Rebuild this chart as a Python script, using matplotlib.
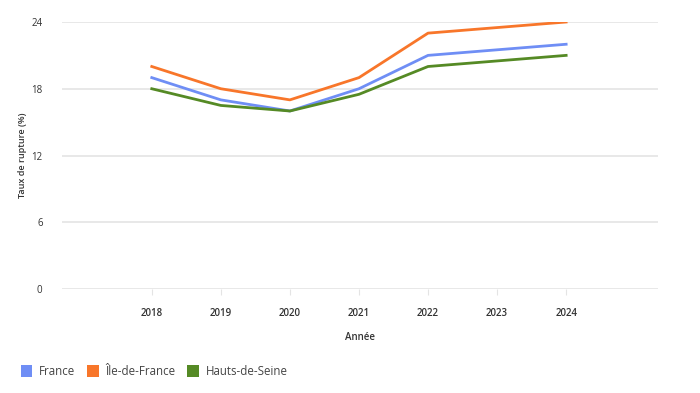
import matplotlib
matplotlib.use("Agg")
import matplotlib.pyplot as plt
from matplotlib.patches import Patch

years = [2018, 2019, 2020, 2021, 2022, 2023, 2024]
france = [19.0, 17.0, 16.0, 18.0, 21.0, 21.5, 22.0]
idf = [20.0, 18.0, 17.0, 19.0, 23.0, 23.5, 24.0]
hds = [18.0, 16.5, 16.0, 17.5, 20.0, 20.5, 21.0]
series_names = ["France", "Île-de-France", "Hauts-de-Seine"]
colors = ["#6f8ef5", "#f8762a", "#558a25"]
yticks = [0, 6, 12, 18, 24]

plt.rcParams['font.family'] = ['Open Sans', 'DejaVu Sans']

fig = plt.figure(figsize=(7, 3.93), dpi=100)
ax = fig.add_axes([62/700, 104/393, 596/700, 267/393])

for vals, c, n in zip([france, idf, hds], colors, series_names):
    ax.plot(years, vals, color=c, lw=2, label=n, solid_joinstyle='round')

ax.set_xlim(2016.7, 2025.33)
ax.set_ylim(0, 24)
ax.set_yticks(yticks)
ax.set_xticks(years)
ax.set_xticklabels([str(y) for y in years], fontsize=7, color="#333333", fontweight='semibold')
ax.set_yticklabels([str(v) for v in yticks], fontsize=7, color="#333333")
ax.grid(axis='y', color='#e4e4e4', lw=1.2)
ax.set_axisbelow(True)
for s in ax.spines.values():
    s.set_visible(False)
ax.tick_params(axis='y', length=0, pad=14)
ax.tick_params(axis='x', length=4, color='#e4e4e4', pad=10)
ax.set_xlabel("Année", fontsize=7, color="#333333", fontweight='semibold', labelpad=9)
ax.set_ylabel("Taux de rupture (%)", fontsize=6.5, color="#333333", fontweight='semibold', labelpad=3)

handles = [Patch(facecolor=c, edgecolor='none') for c in colors]
fig.legend(handles, series_names, loc='lower left', bbox_to_anchor=(0.015, 0.012),
           ncol=3, frameon=False, fontsize=8.3, handlelength=1.0, handleheight=1.3,
           handletextpad=0.6, columnspacing=1.0, labelcolor="#444444")

fig.savefig("out.png", dpi=100, facecolor='white')
